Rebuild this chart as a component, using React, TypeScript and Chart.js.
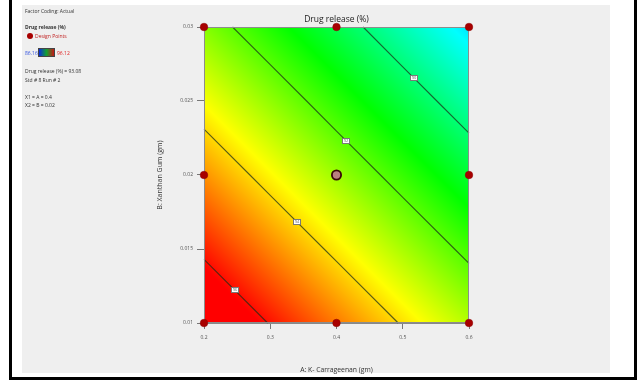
import React, { useEffect, useRef } from "react";
import { Chart, registerables } from "chart.js";

Chart.register(...registerables);

const FONT = "'Open Sans', 'Noto Sans', sans-serif";

// Axis ticks
const xTicks = [0.2, 0.3, 0.4, 0.5, 0.6];
const xTickLabels = ["0.2", "0.3", "0.4", "0.5", "0.6"];
const yTicks = [0.01, 0.015, 0.02, 0.025, 0.03];
const yTickLabels = ["0.01", "0.015", "0.02", "0.025", "0.03"];

// Predicted drug release (%) sampled on an A x B grid (rows: B, columns: A)
const gridA = [0.2, 0.3, 0.4, 0.5, 0.6];
const gridB = [0.01, 0.015, 0.02, 0.025, 0.03];
const gridRelease = [
  [96.97, 95.96, 94.94, 93.93, 92.91],
  [95.84, 94.82, 93.81, 92.79, 91.78],
  [94.7, 93.69, 92.67, 91.66, 90.64],
  [93.57, 92.56, 91.54, 90.52, 89.51],
  [92.44, 91.42, 90.41, 89.39, 88.38],
];

// Contour levels and colour range
const contourLevels = [96, 94, 92, 90];
const colourMin = 86.16;
const colourMax = 96.12;

// Design points (A: K-Carrageenan, B: Xanthan Gum)
const designA = [0.2, 0.4, 0.6, 0.2, 0.6, 0.2, 0.4, 0.6];
const designB = [0.01, 0.01, 0.01, 0.02, 0.02, 0.03, 0.03, 0.03];

// Selected run (Std # 8, Run # 2)
const selectedA = [0.4];
const selectedB = [0.02];

const colourStops = [
  [0, 0, 255],
  [0, 255, 255],
  [0, 255, 0],
  [255, 255, 0],
  [255, 0, 0],
];

function colourFor(v: number): number[] {
  let t = (v - colourMin) / (colourMax - colourMin);
  t = Math.max(0, Math.min(1, t));
  const s = t * (colourStops.length - 1);
  const k = Math.min(colourStops.length - 2, Math.floor(s));
  const f = s - k;
  const c0 = colourStops[k];
  const c1 = colourStops[k + 1];
  return [0, 1, 2].map((i) => Math.round(c0[i] + (c1[i] - c0[i]) * f));
}

function locate(arr: number[], v: number): [number, number] {
  let i = 0;
  while (i < arr.length - 2 && v > arr[i + 1]) i++;
  const f = (v - arr[i]) / (arr[i + 1] - arr[i]);
  return [i, f];
}

function sampleRelease(a: number, b: number): number {
  const [i, fa] = locate(gridA, a);
  const [j, fb] = locate(gridB, b);
  const v00 = gridRelease[j][i];
  const v10 = gridRelease[j][i + 1];
  const v01 = gridRelease[j + 1][i];
  const v11 = gridRelease[j + 1][i + 1];
  return (
    v00 * (1 - fa) * (1 - fb) +
    v10 * fa * (1 - fb) +
    v01 * (1 - fa) * fb +
    v11 * fa * fb
  );
}

type Pt = { a: number; b: number };

function contourSegments(level: number): Pt[][] {
  const segs: Pt[][] = [];
  for (let j = 0; j < gridB.length - 1; j++) {
    for (let i = 0; i < gridA.length - 1; i++) {
      const corners: [Pt, number][] = [
        [{ a: gridA[i], b: gridB[j] }, gridRelease[j][i]],
        [{ a: gridA[i + 1], b: gridB[j] }, gridRelease[j][i + 1]],
        [{ a: gridA[i + 1], b: gridB[j + 1] }, gridRelease[j + 1][i + 1]],
        [{ a: gridA[i], b: gridB[j + 1] }, gridRelease[j + 1][i]],
      ];
      const hits: Pt[] = [];
      for (let e = 0; e < 4; e++) {
        const [p1, v1] = corners[e];
        const [p2, v2] = corners[(e + 1) % 4];
        if ((v1 - level) * (v2 - level) < 0) {
          const f = (level - v1) / (v2 - v1);
          hits.push({ a: p1.a + (p2.a - p1.a) * f, b: p1.b + (p2.b - p1.b) * f });
        }
      }
      if (hits.length >= 2) segs.push([hits[0], hits[1]]);
      if (hits.length === 4) segs.push([hits[2], hits[3]]);
    }
  }
  return segs;
}

const LINE_COLOUR = "rgba(25,45,25,0.72)";

const surfacePlugin = {
  id: "responseSurface",
  beforeDatasetsDraw(chart: any) {
    const { ctx, chartArea: ca } = chart;
    const xs = chart.scales.x;
    const ys = chart.scales.y;
    const left = Math.round(ca.left);
    const top = Math.round(ca.top);
    const w = Math.round(ca.right) - left;
    const h = Math.round(ca.bottom) - top;

    // filled colour field
    const off = document.createElement("canvas");
    off.width = w;
    off.height = h;
    const octx = off.getContext("2d")!;
    const img = octx.createImageData(w, h);
    for (let j = 0; j < h; j++) {
      const b = ys.getValueForPixel(top + j + 0.5);
      for (let i = 0; i < w; i++) {
        const a = xs.getValueForPixel(left + i + 0.5);
        const c = colourFor(sampleRelease(a, b));
        const k = (j * w + i) * 4;
        img.data[k] = c[0];
        img.data[k + 1] = c[1];
        img.data[k + 2] = c[2];
        img.data[k + 3] = 255;
      }
    }
    octx.putImageData(img, 0, 0);
    ctx.save();
    ctx.drawImage(off, left, top);

    // contour lines with value tags
    ctx.lineWidth = 1.1;
    for (const level of contourLevels) {
      const segs = contourSegments(level);
      const pts: { x: number; y: number }[] = [];
      ctx.strokeStyle = LINE_COLOUR;
      ctx.beginPath();
      for (const [p, q] of segs) {
        const x1 = xs.getPixelForValue(p.a);
        const y1 = ys.getPixelForValue(p.b);
        const x2 = xs.getPixelForValue(q.a);
        const y2 = ys.getPixelForValue(q.b);
        ctx.moveTo(x1, y1);
        ctx.lineTo(x2, y2);
        pts.push({ x: x1, y: y1 }, { x: x2, y: y2 });
      }
      ctx.stroke();
      if (pts.length < 2) continue;
      pts.sort((u, v) => u.x - v.x);
      let total = 0;
      const cum = [0];
      for (let k = 1; k < pts.length; k++) {
        total += Math.hypot(pts[k].x - pts[k - 1].x, pts[k].y - pts[k - 1].y);
        cum.push(total);
      }
      const target = total * 0.48;
      let k = 1;
      while (k < pts.length - 1 && cum[k] < target) k++;
      const seg = cum[k] - cum[k - 1] || 1;
      const f = (target - cum[k - 1]) / seg;
      const lx = Math.round(pts[k - 1].x + (pts[k].x - pts[k - 1].x) * f);
      const ly = Math.round(pts[k - 1].y + (pts[k].y - pts[k - 1].y) * f);
      ctx.fillStyle = "#ffffff";
      ctx.fillRect(lx - 4, ly - 3, 8, 6);
      ctx.lineWidth = 1;
      ctx.strokeStyle = "#7a7a7a";
      ctx.strokeRect(lx - 3.5, ly - 2.5, 7, 5);
      ctx.fillStyle = "#666";
      ctx.font = `4px ${FONT}`;
      ctx.textAlign = "center";
      ctx.textBaseline = "middle";
      ctx.fillText(String(level), lx, ly + 0.3);
      ctx.lineWidth = 1.1;
    }

    // plot frame
    ctx.strokeStyle = "#8c8c8c";
    ctx.lineWidth = 1;
    ctx.strokeRect(left + 0.5, top + 0.5, w - 1, h - 1);
    ctx.restore();
  },
};

export default function App() {
  const canvasRef = useRef<HTMLCanvasElement | null>(null);

  useEffect(() => {
    const canvas = canvasRef.current;
    if (!canvas) return;
    const chart = new Chart(canvas, {
      type: "scatter",
      data: {
        datasets: [
          {
            label: "Design Points",
            data: designA.map((a, i) => ({ x: a, y: designB[i] })),
            backgroundColor: "#a80000",
            borderColor: "#8a0000",
            borderWidth: 0.5,
            pointRadius: 3.8,
            clip: false,
          } as any,
          {
            label: "Selected ring",
            data: selectedA.map((a, i) => ({ x: a, y: selectedB[i] })),
            backgroundColor: "#b98080",
            borderColor: "#3a0808",
            borderWidth: 1.8,
            pointRadius: 4.6,
            clip: false,
          } as any,
          {
            label: "Selected",
            data: selectedA.map((a, i) => ({ x: a, y: selectedB[i] })),
            backgroundColor: "#b00000",
            borderWidth: 0,
            pointRadius: 2.5,
            clip: false,
          } as any,
        ],
      },
      options: {
        animation: false,
        responsive: false,
        events: [],
        layout: { padding: { left: 156, top: 15, right: 168, bottom: 10 } },
        plugins: {
          legend: { display: false },
          tooltip: { enabled: false },
          title: {
            display: true,
            text: "Drug release (%)",
            fullSize: false,
            color: "#222",
            font: { family: FONT, size: 8.5, weight: "normal", lineHeight: 1 },
            padding: { top: 0.75, bottom: 2.75 },
          } as any,
        },
        scales: {
          x: {
            type: "linear",
            position: "bottom",
            min: 0.2,
            max: 0.6,
            afterFit: (s: any) => {
              s.height = 50;
            },
            afterBuildTicks: (s: any) => {
              s.ticks = xTicks.map((v) => ({ value: v }));
            },
            ticks: {
              autoSkip: false,
              maxRotation: 0,
              padding: 6,
              color: "#555",
              font: { family: FONT, size: 5 },
              callback: (_v: any, i: number) => xTickLabels[i],
            },
            grid: {
              drawOnChartArea: false,
              drawTicks: true,
              tickLength: 6,
              color: "#777",
            },
            border: { display: true, color: "#888" },
            title: {
              display: true,
              text: "A: K- Carrageenan (gm)",
              color: "#333",
              font: { family: FONT, size: 6.8, lineHeight: 1 },
              padding: 0,
            },
          },
          y: {
            type: "linear",
            position: "left",
            min: 0.01,
            max: 0.03,
            afterFit: (s: any) => {
              s.width = 48;
            },
            afterBuildTicks: (s: any) => {
              s.ticks = yTicks.map((v) => ({ value: v }));
            },
            ticks: {
              autoSkip: false,
              padding: 4,
              color: "#555",
              font: { family: FONT, size: 5 },
              callback: (_v: any, i: number) => yTickLabels[i],
            },
            grid: {
              drawOnChartArea: false,
              drawTicks: true,
              tickLength: 7,
              color: "#777",
            },
            border: { display: true, color: "#888" },
            title: {
              display: true,
              text: "B: Xanthan Gum (gm)",
              color: "#333",
              font: { family: FONT, size: 7, lineHeight: 1 },
              padding: 0,
            },
          },
        },
      } as any,
      plugins: [surfacePlugin],
    });
    return () => chart.destroy();
  }, []);

  const text = (
    t: string,
    x: number,
    cy: number,
    opts: { size?: number; color?: string; bold?: boolean } = {}
  ) => {
    const size = opts.size ?? 5;
    return (
      <div
        style={{
          position: "absolute",
          left: x,
          top: cy - size / 2,
          fontSize: size,
          lineHeight: `${size}px`,
          fontFamily: FONT,
          fontWeight: opts.bold ? 700 : 400,
          color: opts.color ?? "#333",
          whiteSpace: "nowrap",
        }}
      >
        {t}
      </div>
    );
  };

  return (
    <div
      style={{
        position: "fixed",
        left: 0,
        top: 0,
        width: 637,
        height: 383,
        background: "#ffffff",
        overflow: "hidden",
      }}
    >
      {/* outer frame */}
      <div
        style={{
          position: "absolute",
          left: 9,
          top: -4,
          width: 622,
          height: 381,
          borderLeft: "3px solid #000",
          borderRight: "3px solid #000",
          borderBottom: "3px solid #000",
        }}
      />
      {/* grey panel */}
      <div
        style={{
          position: "absolute",
          left: 22,
          top: 5,
          width: 588,
          height: 368,
          background: "#efefef",
        }}
      />
      <canvas
        ref={canvasRef}
        width={637}
        height={383}
        style={{ position: "absolute", left: 0, top: 0 }}
      />
      {text("Factor Coding: Actual", 25, 11)}
      {text("Drug release (%)", 25, 27, { bold: true })}
      <div
        style={{
          position: "absolute",
          left: 27,
          top: 33,
          width: 6,
          height: 6,
          borderRadius: 3,
          background: "#a80000",
        }}
      />
      {text("Design Points", 35, 36, { color: "#c02020" })}
      {text("86.16", 25, 53, { color: "#3050e0" })}
      <div
        style={{
          position: "absolute",
          left: 38,
          top: 48,
          width: 17,
          height: 9,
          boxSizing: "border-box",
          border: "1px solid #444",
          background: "linear-gradient(to right, #0a2adc, #12a030, #c81414)",
        }}
      />
      {text("96.12", 57, 53, { color: "#e02020" })}
      {text("Drug release (%) = 93.08", 25, 71)}
      {text("Std # 8 Run # 2", 25, 80)}
      {text("X1 = A = 0.4", 25, 97)}
      {text("X2 = B = 0.02", 25, 105)}
    </div>
  );
}
